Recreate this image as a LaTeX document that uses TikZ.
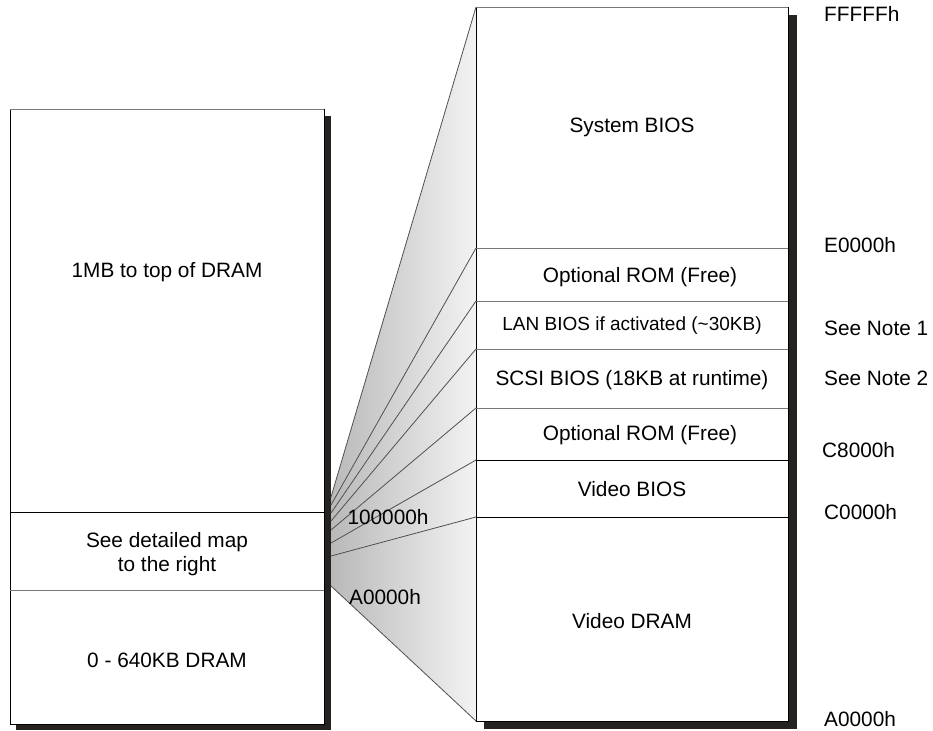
\documentclass[tikz,border=0pt]{standalone}
\usepackage{fontspec}
\setmainfont{Liberation Sans}
\definecolor{shadowc}{RGB}{38,34,31}
\definecolor{fanline}{RGB}{80,80,80}
\definecolor{divgray}{RGB}{120,120,120}
\definecolor{fanleft}{RGB}{185,185,185}
\definecolor{fanright}{RGB}{243,243,243}
\tikzset{
  lbl/.style={inner sep=0pt, font=\fontsize{20.8}{25}\selectfont},
  smalllbl/.style={inner sep=0pt, font=\fontsize{19}{23}\selectfont},
  addr/.style={lbl, anchor=west},
  shadowbox/.style={fill=shadowc, draw=none},
  membox/.style={fill=white, draw=black, line width=0.8pt},
  divider/.style={line width=0.8pt},
  fanstroke/.style={draw=fanline, line width=0.8pt},
}
\begin{document}
\begin{tikzpicture}[x=1pt,y=-1pt]
\useasboundingbox (0,0) rectangle (933,730);

% fan coordinates (left ends)
\coordinate (f0) at (331,497);
\coordinate (f1) at (331,505);
\coordinate (f2) at (331,513);
\coordinate (f3) at (331,521);
\coordinate (f4) at (331,530);
\coordinate (f5) at (331,543);
\coordinate (f6) at (331,556);
\coordinate (f7) at (331,586);

% right box corners / dividers
\coordinate (rtl) at (476,7);
\coordinate (rtr) at (788,7);
\coordinate (rbl) at (476,721);
\coordinate (rbr) at (788,721);
\coordinate (d1l) at (476,248); \coordinate (d1r) at (788,248);
\coordinate (d2l) at (476,301); \coordinate (d2r) at (788,301);
\coordinate (d3l) at (476,349); \coordinate (d3r) at (788,349);
\coordinate (d4l) at (476,408); \coordinate (d4r) at (788,408);
\coordinate (d5l) at (476,460); \coordinate (d5r) at (788,460);
\coordinate (d6l) at (476,517); \coordinate (d6r) at (788,517);

% left box corners / dividers
\coordinate (ltl) at (10,109.5);
\coordinate (ltr) at (324,109.5);
\coordinate (lbr) at (324,724);
\coordinate (e1l) at (10,512); \coordinate (e1r) at (324,512);
\coordinate (e2l) at (10,590); \coordinate (e2r) at (324,590);

% fan shading
\shade[left color=fanleft, right color=fanright] (f0) -- (rtl) -- (rbl) -- (f7) -- cycle;

% shadows
\fill[shadowbox] (16,116) rectangle (331,730);
\fill[shadowbox] (484,15) rectangle (797,729);

% boxes
\draw[membox] (ltl) rectangle (lbr);
\draw[membox] (rtl) rectangle (rbr);
\draw[divgray, line width=0.8pt] (ltl) -- (ltr);
\draw[divgray, line width=0.8pt] (rtl) -- (rtr);

% left dividers
\draw[divider, black] (e1l) -- (e1r);
\draw[divider, divgray] (e2l) -- (e2r);

% right dividers
\draw[divider, divgray] (d1l) -- (d1r);
\draw[divider, divgray] (d2l) -- (d2r);
\draw[divider, divgray] (d3l) -- (d3r);
\draw[divider, divgray] (d4l) -- (d4r);
\draw[divider, black] (d5l) -- (d5r);
\draw[divider, black] (d6l) -- (d6r);

% fan lines
\draw[fanstroke] (f0) -- (rtl);
\draw[fanstroke] (f1) -- (d1l);
\draw[fanstroke] (f2) -- (d2l);
\draw[fanstroke] (f3) -- (d3l);
\draw[fanstroke] (f4) -- (d4l);
\draw[fanstroke] (f5) -- (d5l);
\draw[fanstroke] (f6) -- (d6l);
\draw[fanstroke] (f7) -- (rbl);

% left box texts
\node[lbl] (topdram) at (167,272) {1MB to top of DRAM};
\node[lbl, align=center] (detail) at (167,554) {See detailed map\\[-1pt]to the right};
\node[lbl] (lowdram) at (167,660) {0 - 640KB DRAM};

% right box texts
\node[lbl] (sysbios) at (632,127) {System BIOS};
\node[lbl] (opt1) at (640,277) {Optional ROM (Free)};
\node[smalllbl] (lan) at (632,326) {LAN BIOS if activated (\char`~30KB)};
\node[lbl] (scsi) at (632,380) {SCSI BIOS (18KB at runtime)};
\node[lbl] (opt2) at (640,435) {Optional ROM (Free)};
\node[lbl] (vbios) at (632,489) {Video BIOS};
\node[lbl] (vdram) at (632,621) {Video DRAM};

% fan labels
\node[lbl] (hmb) at (388,517) {100000h};
\node[lbl] (ha0) at (385,597) {A0000h};

% address labels
\node[addr] (aF) at (824,14) {FFFFFh};
\node[addr] (aE) at (824,245) {E0000h};
\node[addr] (n1) at (824,328) {See Note 1};
\node[addr] (n2) at (824,378) {See Note 2};
\node[addr] (aC8) at (822,450) {C8000h};
\node[addr] (aC0) at (824,512) {C0000h};
\node[addr] (aA) at (824,719) {A0000h};
\end{tikzpicture}
\end{document}
